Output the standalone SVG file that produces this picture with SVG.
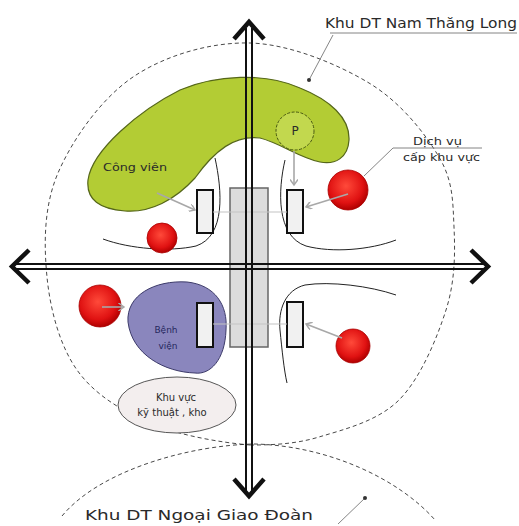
<svg xmlns="http://www.w3.org/2000/svg" width="519" height="526" viewBox="0 0 519 526">
<style>
.lbl{font-family:"DejaVu Sans","Liberation Sans",sans-serif;fill:#2a2a2a}
.dash{fill:none;stroke:#333;stroke-width:0.9;stroke-dasharray:4 3}
.thin{fill:none;stroke:#222;stroke-width:1}
.lead{fill:none;stroke:#777;stroke-width:0.9}
.garrow{fill:none;stroke:#a8a8a8;stroke-width:1.6;marker-end:url(#ga)}
.road{fill:none;stroke:#111;stroke-width:2}
.head{fill:none;stroke:#111;stroke-width:4.5;stroke-linecap:butt;stroke-linejoin:miter}
.srect{fill:#f1f1f1;stroke:#111;stroke-width:2}
.red{fill:url(#rg);stroke:#a00;stroke-width:0.8}
</style>
<defs>
<radialGradient id="rg" cx="0.45" cy="0.4" r="0.6">
<stop offset="0" stop-color="#ff4a3a"/>
<stop offset="0.7" stop-color="#e01212"/>
<stop offset="1" stop-color="#b00000"/>
</radialGradient>
<marker id="ga" viewBox="0 0 10 10" refX="8" refY="5" markerWidth="5" markerHeight="5" orient="auto">
<path d="M1 0 L8 5 L1 10" fill="none" stroke="#a8a8a8" stroke-width="1.8"/>
</marker>
</defs>
<rect width="519" height="526" fill="#ffffff"/>

<g id="zone-boundaries">
<path class="dash" d="M250 445 C221.8 442.7 178.8 435.5 150 423 C121.2 410.5 94.2 394.3 77 370 C59.8 345.7 50.2 309.8 47 277 C43.8 244.2 43.7 206.3 58 173 C72.3 139.7 101 98.7 133 77 C165 55.3 210.7 42 250 43 C289.3 44 337.5 64 369 83 C400.5 102 424.8 133 439 157 C453.2 181 452.8 201.5 454 227 C455.2 252.5 455.2 281.2 446 310 C436.8 338.8 420.2 378.8 399 400 C377.8 421.2 343.8 429.5 319 437 C294.2 444.5 270 445 250 445 Z"/>
<path class="dash" d="M62 516 C100 470 190 445 255 444 C330 446 400 480 435 520"/>
</g>

<g id="cong-vien">
<path d="M88 180 C92 150 140 110 180 90 C215 75 265 72 300 88 C330 100 350 118 349 140 C348 158 335 165 320 162 C300 158 280 143 260 138 C235 135 215 150 195 178 C175 200 150 213 125 211 C100 209 86 200 88 180 Z" fill="#b3cc34" stroke="#55661a" stroke-width="1.2"/>
<text class="lbl" x="103" y="171" font-size="11" textLength="64" lengthAdjust="spacingAndGlyphs">Công viên</text>
</g>

<g id="parking">
<circle cx="295" cy="131" r="19" fill="#c2d84e" stroke="#4a5a12" stroke-width="1" stroke-dasharray="3 1.5"/>
<text class="lbl" x="295" y="135" font-size="12" text-anchor="middle">P</text>
</g>

<g id="corner-curves">
<path class="thin" d="M215 158 C222 190 226 236 196 246 C170 252 130 249 103 239"/>
<path class="thin" d="M285 160 C278 190 276 236 306 246 C332 253 370 250 396 240"/>
<path class="thin" d="M396 295 C370 286 330 281 305 285 C285 290 278 310 280 330 C282 350 284 370 287 383"/>
</g>

<g id="benh-vien">
<path d="M187 282 C215 285 228 305 226 330 C225 360 210 375 195 373 C165 372 132 355 128 322 C126 295 155 280 187 282 Z" fill="#8a86bd" stroke="#3d3b6a" stroke-width="1"/>
<text x="166" y="333" font-size="9" text-anchor="middle" font-family="DejaVu Sans, sans-serif" fill="#26265e">Bệnh</text>
<text x="168" y="349" font-size="9" text-anchor="middle" font-family="DejaVu Sans, sans-serif" fill="#26265e">viện</text>
</g>

<g id="khu-ky-thuat">
<ellipse cx="177" cy="405" rx="59" ry="28" fill="#f3eeee" stroke="#444" stroke-width="0.9"/>
<text class="lbl" x="176" y="401" font-size="10" text-anchor="middle">Khu vực</text>
<text class="lbl" x="172" y="416" font-size="10" text-anchor="middle">kỹ thuật , kho</text>
</g>

<g id="central-axis">
<rect x="230" y="188" width="38" height="159" fill="#dcdcdc" stroke="#666" stroke-width="1.5"/>
</g>

<g id="blocks">
<rect class="srect" x="197" y="190" width="16" height="43"/>
<rect class="srect" x="287" y="190" width="16" height="43"/>
<rect class="srect" x="197" y="303" width="16" height="44"/>
<rect class="srect" x="287" y="302" width="16" height="45"/>
</g>

<g id="services">
<circle class="red" cx="348" cy="190" r="20"/>
<circle class="red" cx="162" cy="238" r="15"/>
<circle class="red" cx="100" cy="306" r="21"/>
<circle class="red" cx="353" cy="346" r="17"/>
</g>

<g id="connectors">
<path class="garrow" d="M294 151 L294 185"/>
<path class="garrow" d="M348 194 L306 207"/>
<path class="garrow" d="M157 193 L195 210"/>
<path class="garrow" d="M342 338 L306 324"/>
<path class="garrow" d="M102 307 L124 307"/>
<path d="M213 212 L287 212 M213 324 L287 324" stroke="#c4c4c4" stroke-width="1.2" fill="none"/>
</g>

<g id="roads">
<path class="road" d="M246 28 L246 494 M252 28 L252 494"/>
<path class="road" d="M16 264 L486 264 M16 269 L486 269"/>
<path class="head" d="M234 39 L249 22 L264 39"/>
<path class="head" d="M234 479 L249 496 L264 479"/>
<path class="head" d="M29 250 L12 266.5 L29 283"/>
<path class="head" d="M471 250 L488 266.5 L471 283"/>
</g>

<g id="labels">
<path class="lead" d="M330 33 L517 33"/>
<path class="lead" d="M333 35 L309 80"/>
<circle cx="309" cy="80" r="2" fill="#333"/>
<text class="lbl" x="325" y="28" font-size="14" textLength="192" lengthAdjust="spacingAndGlyphs">Khu DT Nam Thăng Long</text>
<path class="lead" d="M364 176 L393 148 L482 148"/>
<text class="lbl" x="413" y="145" font-size="10" textLength="49" lengthAdjust="spacingAndGlyphs">Dịch vụ</text>
<text class="lbl" x="403" y="161" font-size="10" textLength="77" lengthAdjust="spacingAndGlyphs">cấp khu vực</text>
<path class="lead" d="M365 498 L338 524"/>
<circle cx="365" cy="498" r="2" fill="#333"/>
<text class="lbl" x="85" y="520" font-size="14" textLength="228" lengthAdjust="spacingAndGlyphs">Khu DT Ngoại Giao Đoàn</text>
</g>
</svg>
